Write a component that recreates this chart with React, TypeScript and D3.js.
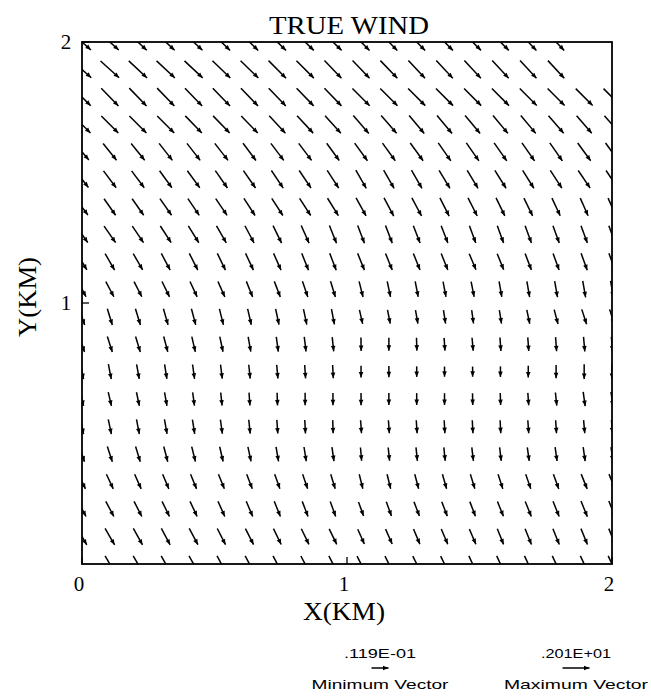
import React, { useRef, useEffect } from 'react';
import * as d3 from 'd3';

// grid positions (km), 20 points from 0 to 2
const gridX = [0, 0.105, 0.211, 0.316, 0.421, 0.526, 0.632, 0.737, 0.842, 0.947, 1.053, 1.158, 1.263, 1.368, 1.474, 1.579, 1.684, 1.789, 1.895, 2.0];
const gridY = [0, 0.105, 0.211, 0.316, 0.421, 0.526, 0.632, 0.737, 0.842, 0.947, 1.053, 1.158, 1.263, 1.368, 1.474, 1.579, 1.684, 1.789, 1.895, 2.0];

// wind direction, degrees clockwise from due south (toward east). first row = top (y = 2)
const angleRows = [
  [48, 48, 47, 47, 47, 46, 46, 46, 46, 46, 45, 45, 45, 45, 45, 45, 44, 44, null, null],
  [48, 48, 47, 47, 47, 46, 46, 45, 45, 44, 44, 44, 43, 43, 43, 43, 43, 43, null, null],
  [45, 44, 44, 44, 44, 44, 44, 44, 44, 44, 45, 45, 45, 45, 45, 45, 45, 45, 45, 45],
  [45, 45, 45, 45, 44, 44, 44, 43, 43, 42, 41, 41, 40, 40, 40, 40, 40, 41, 41, 41],
  [40, 39, 39, 38, 38, 38, 37, 37, 37, 36, 36, 36, 36, 35, 35, 35, 35, 35, 36, 36],
  [38, 37, 37, 36, 36, 35, 35, 34, 34, 33, 30, 30, 30, 31, 31, 32, 32, 33, 34, 34],
  [36, 35, 35, 35, 34, 34, 33, 33, 33, 32, 29, 28, 28, 27, 27, 26, 26, 25, 24, 24],
  [35, 35, 34, 33, 32, 30, 28, 26, 24, 22, 21, 21, 21, 21, 20, 20, 20, 20, 20, 20],
  [31, 30, 30, 28, 27, 26, 25, 24, 22, 21, 22, 22, 22, 22, 23, 22, 21, 20, 20, 20],
  [28, 28, 27, 26, 25, 24, 22, 21, 19, 17, 14, 12, 11, 11, 11, 10, 10, 10, 10, 10],
  [18, 17, 17, 16, 15, 14, 13, 12, 12, 11, 13, 11, 10, 9, 8, 9, 12, 15, 18, 18],
  [18, 18, 17, 15, 13, 12, 10, 8, 7, 6, 1, 0, 2, 4, 5, 4, 4, 4, 5, 5],
  [12, 11, 10, 9, 8, 7, 6, 5, 4, 3, 0, 0, 0, 0, 0, 0, 0, 0, 0, 0],
  [13, 13, 12, 10, 8, 6, 4, 2, 0, 0, 0, 0, 0, 0, 1, 2, 4, 6, 8, 8],
  [12, 12, 11, 10, 9, 8, 6, 4, 3, 2, 4, 4, 4, 3, 3, 3, 4, 4, 5, 5],
  [18, 18, 17, 15, 14, 13, 12, 10, 9, 8, 5, 6, 6, 6, 7, 7, 8, 8, 8, 8],
  [25, 25, 24, 23, 22, 22, 21, 20, 19, 17, 14, 14, 15, 16, 17, 18, 19, 20, 22, 22],
  [28, 28, 27, 26, 25, 24, 23, 22, 21, 20, 20, 20, 21, 21, 21, 22, 22, 22, 22, 22],
  [30, 30, 29, 28, 28, 27, 27, 26, 26, 26, 24, 24, 23, 23, 23, 22, 22, 22, 22, 22],
  [30, 30, 30, 29, 29, 28, 28, 28, 28, 27, 27, 26, 26, 26, 25, 25, 25, 25, 25, 25],
];

// wind speed, first row = top
const speedRows = [
  [1.92, 1.93, 1.94, 1.95, 1.95, 1.95, 1.95, 1.94, 1.94, 1.93, 1.93, 1.92, 1.92, 1.91, 1.90, 1.90, 1.89, 1.88, null, null],
  [2.00, 2.01, 2.01, 2.01, 2.00, 2.00, 1.99, 1.99, 1.98, 1.97, 1.97, 1.96, 1.96, 1.95, 1.95, 1.94, 1.94, 1.93, null, null],
  [1.98, 1.99, 2.00, 2.00, 1.99, 1.99, 1.98, 1.98, 1.97, 1.97, 1.96, 1.96, 1.95, 1.95, 1.94, 1.94, 1.93, 1.93, 1.92, 1.92],
  [1.92, 1.93, 1.93, 1.93, 1.92, 1.92, 1.91, 1.91, 1.90, 1.90, 1.90, 1.89, 1.89, 1.88, 1.88, 1.87, 1.87, 1.86, 1.86, 1.86],
  [1.72, 1.72, 1.73, 1.73, 1.73, 1.73, 1.73, 1.72, 1.72, 1.72, 1.75, 1.75, 1.76, 1.76, 1.76, 1.77, 1.77, 1.77, 1.77, 1.77],
  [1.68, 1.69, 1.69, 1.69, 1.70, 1.70, 1.70, 1.70, 1.70, 1.70, 1.68, 1.68, 1.68, 1.69, 1.69, 1.70, 1.70, 1.71, 1.71, 1.71],
  [1.62, 1.62, 1.62, 1.63, 1.63, 1.63, 1.64, 1.64, 1.64, 1.65, 1.66, 1.66, 1.65, 1.64, 1.63, 1.61, 1.59, 1.57, 1.55, 1.55],
  [1.62, 1.62, 1.61, 1.60, 1.59, 1.58, 1.57, 1.56, 1.55, 1.53, 1.52, 1.51, 1.50, 1.50, 1.49, 1.48, 1.48, 1.48, 1.48, 1.48],
  [1.53, 1.53, 1.52, 1.51, 1.50, 1.49, 1.48, 1.47, 1.46, 1.45, 1.45, 1.44, 1.43, 1.42, 1.40, 1.40, 1.40, 1.42, 1.44, 1.44],
  [1.38, 1.38, 1.37, 1.37, 1.36, 1.36, 1.35, 1.34, 1.33, 1.32, 1.30, 1.28, 1.26, 1.25, 1.25, 1.26, 1.28, 1.31, 1.34, 1.34],
  [1.37, 1.37, 1.36, 1.35, 1.34, 1.33, 1.31, 1.29, 1.27, 1.25, 1.15, 1.13, 1.11, 1.10, 1.08, 1.10, 1.14, 1.20, 1.26, 1.26],
  [1.30, 1.30, 1.29, 1.28, 1.26, 1.24, 1.22, 1.20, 1.18, 1.15, 1.08, 1.05, 1.03, 1.03, 1.05, 1.08, 1.10, 1.14, 1.18, 1.18],
  [1.22, 1.22, 1.20, 1.18, 1.16, 1.14, 1.12, 1.10, 1.08, 1.06, 0.95, 0.90, 0.85, 0.82, 0.82, 0.85, 0.95, 1.05, 1.18, 1.18],
  [1.14, 1.14, 1.12, 1.10, 1.08, 1.06, 1.04, 1.02, 1.00, 0.98, 0.98, 0.97, 0.96, 0.95, 0.95, 0.97, 1.00, 1.06, 1.15, 1.18],
  [1.22, 1.22, 1.20, 1.18, 1.16, 1.14, 1.12, 1.10, 1.08, 1.06, 1.05, 1.05, 1.05, 1.05, 1.05, 1.05, 1.05, 1.05, 1.06, 1.06],
  [1.30, 1.30, 1.28, 1.26, 1.24, 1.22, 1.20, 1.18, 1.16, 1.14, 1.07, 1.07, 1.08, 1.08, 1.09, 1.10, 1.11, 1.12, 1.14, 1.14],
  [1.30, 1.30, 1.29, 1.28, 1.27, 1.26, 1.25, 1.24, 1.23, 1.22, 1.20, 1.20, 1.21, 1.22, 1.23, 1.24, 1.25, 1.26, 1.28, 1.28],
  [1.38, 1.38, 1.37, 1.36, 1.35, 1.34, 1.33, 1.32, 1.30, 1.28, 1.20, 1.21, 1.22, 1.24, 1.26, 1.28, 1.30, 1.32, 1.36, 1.36],
  [1.53, 1.53, 1.52, 1.50, 1.48, 1.46, 1.44, 1.42, 1.40, 1.38, 1.30, 1.31, 1.32, 1.33, 1.34, 1.35, 1.36, 1.37, 1.38, 1.38],
  [1.53, 1.53, 1.52, 1.51, 1.50, 1.49, 1.48, 1.47, 1.46, 1.45, 1.42, 1.42, 1.42, 1.42, 1.43, 1.43, 1.44, 1.44, 1.45, 1.45],
];

const xTicks = [0, 1, 2];
const yTicks = [1, 2];
const legendLabels = ['.119E-01', '.201E+01'];
const legendNames = ['Minimum Vector', 'Maximum Vector'];

function App() {
  const ref = useRef(null);
  const width = 651;
  const height = 697;
  const plot = { left: 82, right: 612, top: 42, bottom: 564 };

  useEffect(() => {
    const svg = d3.select(ref.current);
    svg.selectAll('*').remove();

    const x = d3.scaleLinear().domain([0, 2]).range([plot.left, plot.right]);
    const y = d3.scaleLinear().domain([0, 2]).range([plot.bottom, plot.top]);
    const len = d3.scaleLinear().domain([0, 2.01]).range([0, 25]);

    svg.append('defs').append('clipPath').attr('id', 'plotclip')
      .append('rect')
      .attr('x', plot.left).attr('y', plot.top)
      .attr('width', plot.right - plot.left).attr('height', plot.bottom - plot.top);

    // arrow path centred on (cx, cy)
    const arrow = (cx, cy, L, deg) => {
      const a = (deg * Math.PI) / 180;
      const ux = Math.sin(a), uy = Math.cos(a);
      const tx = cx - (ux * L) / 2, ty = cy - (uy * L) / 2;
      const hx = cx + (ux * L) / 2, hy = cy + (uy * L) / 2;
      const hl = 5.5, hw = 2.3;
      const bx = hx - ux * hl, by = hy - uy * hl;
      return {
        line: `M${tx},${ty}L${hx},${hy}`,
        head: `M${hx},${hy}L${bx - uy * hw},${by + ux * hw}L${bx + uy * hw},${by - ux * hw}Z`,
      };
    };

    const vectors = [];
    angleRows.forEach((row, r) => {
      const j = gridY.length - 1 - r;
      row.forEach((deg, i) => {
        const s = speedRows[r][i];
        if (deg == null || s == null) return;
        vectors.push(arrow(x(gridX[i]), y(gridY[j]), len(s), deg));
      });
    });

    const field = svg.append('g').attr('clip-path', 'url(#plotclip)');
    field.selectAll('path.shaft').data(vectors).join('path')
      .attr('class', 'shaft')
      .attr('d', (d) => d.line)
      .attr('stroke', '#000').attr('stroke-width', 1.5).attr('fill', 'none');
    field.selectAll('path.head').data(vectors).join('path')
      .attr('class', 'head')
      .attr('d', (d) => d.head)
      .attr('fill', '#000');

    // frame
    svg.append('rect')
      .attr('x', plot.left).attr('y', plot.top)
      .attr('width', plot.right - plot.left).attr('height', plot.bottom - plot.top)
      .attr('fill', 'none').attr('stroke', '#000').attr('stroke-width', 1.8);

    // ticks
    svg.selectAll('line.xt').data(xTicks).join('line')
      .attr('class', 'xt')
      .attr('x1', (d) => x(d)).attr('x2', (d) => x(d))
      .attr('y1', plot.bottom).attr('y2', plot.bottom - 7)
      .attr('stroke', '#000').attr('stroke-width', 1.3);
    svg.selectAll('line.yt').data(yTicks).join('line')
      .attr('class', 'yt')
      .attr('x1', plot.left).attr('x2', plot.left + 7)
      .attr('y1', (d) => y(d)).attr('y2', (d) => y(d))
      .attr('stroke', '#000').attr('stroke-width', 1.3);

    const serif = '"Liberation Serif", "DejaVu Serif", serif';
    svg.selectAll('text.xl').data(xTicks).join('text')
      .attr('class', 'xl')
      .attr('x', (d) => x(d) - 3).attr('y', 591)
      .attr('text-anchor', 'middle')
      .attr('font-family', serif).attr('font-size', 21)
      .text((d) => d);
    svg.selectAll('text.yl').data(yTicks).join('text')
      .attr('class', 'yl')
      .attr('x', 66).attr('y', (d) => y(d) + 7)
      .attr('text-anchor', 'middle')
      .attr('font-family', serif).attr('font-size', 21)
      .text((d) => d);

    svg.append('text')
      .attr('x', 349).attr('y', 34)
      .attr('text-anchor', 'middle')
      .attr('font-family', serif).attr('font-size', 25)
      .attr('textLength', 160).attr('lengthAdjust', 'spacingAndGlyphs')
      .text('TRUE WIND');
    svg.append('text')
      .attr('x', 344).attr('y', 620)
      .attr('text-anchor', 'middle')
      .attr('font-family', serif).attr('font-size', 25)
      .attr('textLength', 82).attr('lengthAdjust', 'spacingAndGlyphs')
      .text('X(KM)');
    svg.append('text')
      .attr('transform', 'translate(36,297) rotate(-90)')
      .attr('text-anchor', 'middle')
      .attr('font-family', serif).attr('font-size', 25)
      .attr('textLength', 80).attr('lengthAdjust', 'spacingAndGlyphs')
      .text('Y(KM)');

    // legend: min and max reference vectors
    const sans = '"Liberation Sans", Arial, sans-serif';
    const legendX = [380, 576];
    const legendLen = [17, 27];
    legendLabels.forEach((lab, k) => {
      svg.append('text')
        .attr('x', legendX[k]).attr('y', 658)
        .attr('text-anchor', 'middle')
        .attr('font-family', sans).attr('font-size', 12)
        .attr('textLength', k === 0 ? 72 : 70).attr('lengthAdjust', 'spacingAndGlyphs')
        .text(lab);
      const a = arrow(legendX[k], 668, legendLen[k], 90);
      svg.append('path').attr('d', a.line).attr('stroke', '#000').attr('stroke-width', 1.5);
      svg.append('path').attr('d', a.head).attr('fill', '#000');
      svg.append('text')
        .attr('x', legendX[k]).attr('y', 689)
        .attr('text-anchor', 'middle')
        .attr('font-family', sans).attr('font-size', 13)
        .attr('textLength', k === 0 ? 137 : 144).attr('lengthAdjust', 'spacingAndGlyphs')
        .text(legendNames[k]);
    });
  }, []);

  return (
    <svg ref={ref} width={width} height={height}
      style={{ position: 'absolute', left: 0, top: 0, background: '#fff' }} />
  );
}

export default App;
